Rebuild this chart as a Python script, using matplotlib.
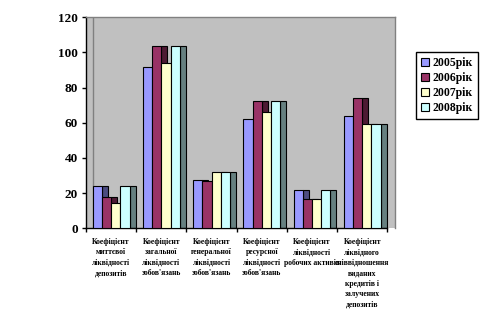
import matplotlib
matplotlib.use("Agg")
import matplotlib.pyplot as plt
import numpy as np

categories = [
    "Коефіцієнт\nмиттєвої\nліквідності\nдепозитів",
    "Коефіцієнт\nзагальної\nліквідності\nзобов'язань",
    "Коефіцієнт\nгенеральної\nліквідності\nзобов'язань",
    "Коефіцієнт\nресурсної\nліквідності\nзобов'язань",
    "Коефіцієнт\nліквідності\nробочих активів",
    "Коефіцієнт\nліквідного\nспіввідношення\nвиданих\nкредитів і\nзалучених\nдепозитів",
]
series_names = ["2005рік", "2006рік", "2007рік", "2008рік"]
v2005 = [24.0, 91.6, 27.3, 62.2, 21.6, 63.7]
v2006 = [18.0, 103.5, 26.7, 72.2, 16.5, 73.9]
v2007 = [14.2, 93.9, 31.9, 66.2, 16.5, 59.2]
v2008 = [24.0, 103.5, 31.9, 72.2, 21.6, 59.2]
yticks = [0, 20, 40, 60, 80, 100, 120]

front_colors = ["#9999FF", "#993366", "#FFFFCC", "#CCFFFF"]
side_colors = ["#4C4C80", "#4D1A33", "#808066", "#668080"]

plt.rcParams["font.family"] = ["Liberation Serif", "DejaVu Serif"]

fig = plt.figure(figsize=(4.84, 3.25), dpi=100)
fig.patch.set_facecolor("white")
ax = fig.add_axes([86 / 484, (325 - 228.3) / 325, 308.7 / 484, 211 / 325])
ax.set_facecolor("#C0C0C0")

n = len(categories)
x0 = np.arange(n)
start = 0.135
w_front = 0.183
w_side = 0.12
values = [v2005, v2006, v2007, v2008]

# side faces first, then fronts over them
for k, vals in enumerate(values):
    ax.bar(x0 + start + k * w_front + w_front, vals, width=w_side, align="edge",
           color=side_colors[k], edgecolor="black", linewidth=0.8, zorder=2)
handles = []
for k, vals in enumerate(values):
    b = ax.bar(x0 + start + k * w_front, vals, width=w_front, align="edge",
               color=front_colors[k], edgecolor="black", linewidth=0.8, zorder=3,
               label=series_names[k])
    handles.append(b)

xmax = n * 308.7 / 301.3
ax.set_xlim(0, xmax)
ax.set_ylim(0, 120)

# back wall edge
ax.axvline(start, color="#808080", linewidth=1.0, zorder=1)

for side in ["top", "right"]:
    ax.spines[side].set_color("#808080")
    ax.spines[side].set_linewidth(1.0)
for side in ["left", "bottom"]:
    ax.spines[side].set_color("black")
    ax.spines[side].set_linewidth(1.0)
ax.spines["bottom"].set_bounds(0, n)

ax.set_yticks(yticks)
ax.set_yticklabels([str(t) for t in yticks], fontsize=9.5, fontweight="bold")
ax.tick_params(axis="y", direction="out", length=3, width=1, pad=3)

ax.set_xticks(np.arange(n + 1))
ax.set_xticklabels([])
ax.tick_params(axis="x", which="major", direction="out", length=3, width=1)
ax.set_xticks(x0 + 0.5, minor=True)
ax.set_xticklabels(categories, minor=True, fontsize=5.5, fontweight="bold",
                   linespacing=1.4, multialignment="center")
ax.tick_params(axis="x", which="minor", length=0, pad=7)

leg = fig.legend(handles=handles, labels=series_names,
                 loc="upper left", bbox_to_anchor=(416 / 484, 1 - 52.3 / 325),
                 frameon=True, fancybox=False, edgecolor="black", framealpha=1,
                 prop={"size": 8.5, "weight": "bold"},
                 handlelength=0.7, handleheight=0.7, handletextpad=0.3,
                 labelspacing=0.25, borderpad=0.4, borderaxespad=0)
leg.get_frame().set_linewidth(1.0)
for h in leg.legend_handles:
    h.set_edgecolor("black")
    h.set_linewidth(0.8)

fig.savefig("out.png", dpi=100, facecolor="white")
